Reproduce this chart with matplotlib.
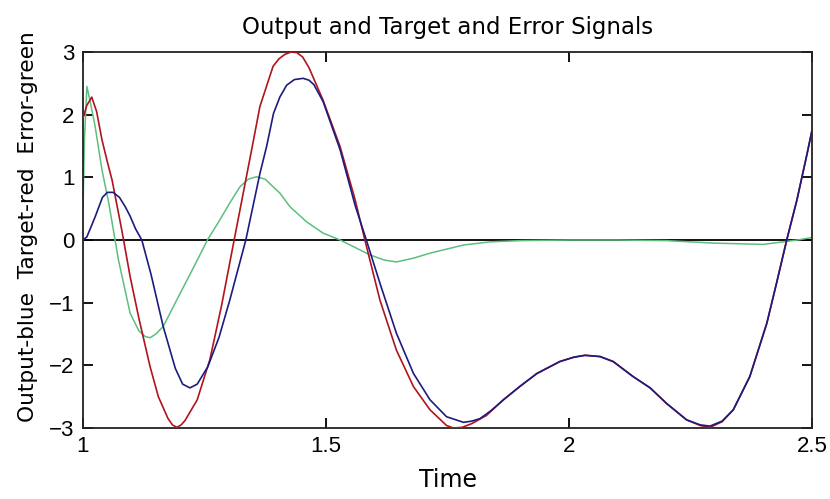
import matplotlib
matplotlib.use("Agg")
import matplotlib.pyplot as plt

# Target (red)
t_target = [1.000, 1.008, 1.018, 1.028, 1.039, 1.050, 1.060, 1.070, 1.080, 1.097,
            1.115, 1.138, 1.155, 1.175, 1.184, 1.193, 1.202, 1.210, 1.235, 1.261,
            1.285, 1.311, 1.323, 1.347, 1.364, 1.391, 1.403, 1.415, 1.428, 1.440,
            1.452, 1.465, 1.494, 1.529, 1.560, 1.580, 1.611, 1.645, 1.680, 1.714,
            1.748, 1.762, 1.780, 1.800, 1.830, 1.865, 1.900, 1.934, 1.981, 2.010,
            2.033, 2.064, 2.091, 2.132, 2.167, 2.201, 2.242, 2.270, 2.290, 2.315,
            2.338, 2.372, 2.407, 2.427, 2.448, 2.469, 2.490, 2.500]
y_target = [1.95, 2.15, 2.28, 2.05, 1.60, 1.25, 0.95, 0.55, 0.15, -0.585,
            -1.25, -2.02, -2.50, -2.85, -2.95, -2.99, -2.95, -2.88, -2.55, -1.91,
            -1.05, 0.00, 0.48, 1.44, 2.13, 2.77, 2.89, 2.96, 3.00, 2.99,
            2.92, 2.75, 2.23, 1.49, 0.64, 0.00, -0.96, -1.76, -2.34, -2.71,
            -2.96, -3.00, -2.99, -2.93, -2.80, -2.55, -2.33, -2.13, -1.94, -1.87,
            -1.84, -1.86, -1.94, -2.18, -2.36, -2.61, -2.87, -2.96, -2.99, -2.90,
            -2.71, -2.18, -1.33, -0.69, 0.00, 0.64, 1.38, 1.75]

# Output (blue)
t_output = [1.000, 1.008, 1.025, 1.040, 1.050, 1.062, 1.075, 1.087, 1.097, 1.108,
            1.121, 1.140, 1.165, 1.190, 1.205, 1.220, 1.235, 1.257, 1.280, 1.302,
            1.335, 1.364, 1.378, 1.392, 1.405, 1.419, 1.435, 1.453, 1.465, 1.475,
            1.494, 1.529, 1.560, 1.583, 1.611, 1.645, 1.680, 1.714, 1.748, 1.783,
            1.800, 1.817, 1.840, 1.865, 1.900, 1.934, 1.981, 2.010, 2.033, 2.064,
            2.091, 2.132, 2.167, 2.201, 2.242, 2.270, 2.290, 2.315, 2.338, 2.372,
            2.407, 2.427, 2.448, 2.469, 2.490, 2.500]
y_output = [0.00, 0.05, 0.37, 0.68, 0.76, 0.76, 0.68, 0.53, 0.38, 0.18,
            0.00, -0.55, -1.38, -2.05, -2.30, -2.36, -2.30, -2.02, -1.55, -0.96,
            0.00, 1.06, 1.50, 2.02, 2.28, 2.47, 2.56, 2.58, 2.55, 2.48,
            2.21, 1.44, 0.55, 0.00, -0.69, -1.49, -2.13, -2.55, -2.82, -2.91,
            -2.89, -2.85, -2.72, -2.55, -2.33, -2.13, -1.94, -1.87, -1.84, -1.86,
            -1.94, -2.18, -2.36, -2.61, -2.87, -2.95, -2.97, -2.89, -2.71, -2.18,
            -1.33, -0.69, 0.00, 0.64, 1.38, 1.75]

# Error (green)
t_error = [1.000, 1.003, 1.008, 1.015, 1.025, 1.039, 1.053, 1.066, 1.073, 1.097,
           1.115, 1.128, 1.138, 1.150, 1.165, 1.200, 1.230, 1.256, 1.280, 1.302,
           1.323, 1.340, 1.357, 1.375, 1.391, 1.405, 1.426, 1.460, 1.494, 1.529,
           1.560, 1.591, 1.620, 1.645, 1.680, 1.714, 1.783, 1.837, 1.900, 2.000,
           2.100, 2.200, 2.300, 2.400, 2.440, 2.470, 2.500]
y_error = [0.50, 1.60, 2.45, 2.20, 1.81, 1.12, 0.59, 0.00, -0.32, -1.17,
           -1.45, -1.54, -1.56, -1.50, -1.38, -0.85, -0.40, 0.00, 0.30, 0.59,
           0.85, 0.97, 1.01, 0.97, 0.85, 0.75, 0.53, 0.29, 0.11, 0.00,
           -0.12, -0.24, -0.32, -0.35, -0.29, -0.21, -0.08, -0.03, -0.01, 0.00,
           0.00, -0.01, -0.05, -0.07, -0.03, 0.00, 0.04]

x_ticks = [1, 1.5, 2, 2.5]
x_ticklabels = ["1", "1.5", "2", "2.5"]
y_ticks = [-3, -2, -1, 0, 1, 2, 3]

plt.rcParams['font.family'] = ['Liberation Sans', 'DejaVu Sans']

fig = plt.figure(figsize=(8.30, 4.99), dpi=100)
ax = fig.add_axes([83/830, 1 - 428/499, (812-83)/830, (428-52)/499])

ax.axhline(0, color="black", lw=1.3, zorder=1)
ax.plot(t_error, y_error, color="#5cbf7e", lw=1.1, zorder=2)
ax.plot(t_target, y_target, color="#b0141e", lw=1.2, zorder=3)
ax.plot(t_output, y_output, color="#1c1c80", lw=1.2, zorder=4)

ax.set_xlim(1, 2.5)
ax.set_ylim(-3, 3)
ax.set_xticks(x_ticks)
ax.set_xticklabels(x_ticklabels)
ax.set_yticks(y_ticks)
ax.tick_params(direction="in", length=7, width=1.3, top=True, right=True,
               labelsize=16, pad=6, colors="black")
for s in ax.spines.values():
    s.set_linewidth(1.3)
    s.set_color("#222222")

lab_font = ['DejaVu Sans']
ax.set_title("Output and Target and Error Signals", fontsize=16.5, pad=13,
             family=lab_font)
ax.set_xlabel("Time", fontsize=17, labelpad=8, family=lab_font)
ax.set_ylabel("Output-blue  Target-red  Error-green", fontsize=15.6,
              family=lab_font)
ax.yaxis.set_label_coords(-0.062, 0.535)

fig.savefig("out.png", dpi=100, facecolor="white")
